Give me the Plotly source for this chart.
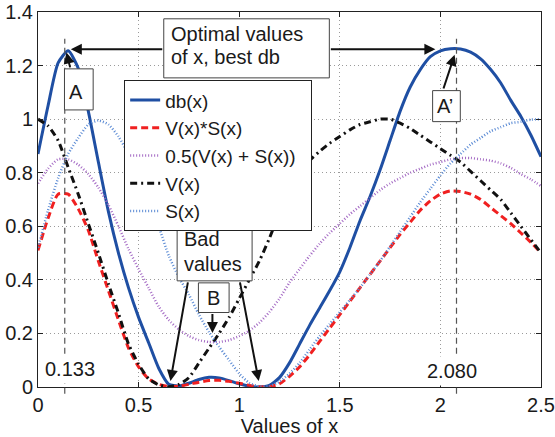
import plotly.graph_objects as go

# ---------------- data ----------------
x_vals = [0.00, 0.05, 0.10, 0.15, 0.20, 0.25, 0.30, 0.35, 0.40, 0.45,
          0.50, 0.55, 0.60, 0.65, 0.70, 0.75, 0.80, 0.85, 0.90, 0.95,
          1.00, 1.05, 1.10, 1.15, 1.20, 1.25, 1.30, 1.35, 1.40, 1.45,
          1.50, 1.55, 1.60, 1.65, 1.70, 1.75, 1.80, 1.85, 1.90, 1.95,
          2.00, 2.05, 2.10, 2.15, 2.20, 2.25, 2.30, 2.35, 2.40, 2.45, 2.50]

db_vals = [0.87, 1.05, 1.21, 1.255, 1.19, 1.03, 0.84, 0.655, 0.50, 0.37,
           0.26, 0.165, 0.07, 0.01, 0.004, 0.014, 0.028, 0.036, 0.034, 0.024,
           0.012, 0.003, 0.0, 0.006, 0.035, 0.09, 0.16, 0.23, 0.295, 0.36,
           0.43, 0.52, 0.62, 0.71, 0.81, 0.92, 1.03, 1.12, 1.185, 1.233,
           1.255, 1.263, 1.262, 1.25, 1.225, 1.185, 1.135, 1.07, 1.01, 0.94, 0.86]

vs_prod_vals = [0.51, 0.63, 0.72, 0.72, 0.665, 0.585, 0.47, 0.36, 0.25, 0.145,
                0.075, 0.03, 0.01, 0.002, 0.003, 0.01, 0.018, 0.024, 0.025, 0.021,
                0.014, 0.006, 0.001, 0.001, 0.012, 0.04, 0.075, 0.12, 0.17, 0.22,
                0.27, 0.32, 0.37, 0.42, 0.47, 0.52, 0.57, 0.615, 0.66, 0.695,
                0.72, 0.732, 0.73, 0.72, 0.70, 0.67, 0.64, 0.61, 0.575, 0.54, 0.50]

vs_mean_vals = [0.76, 0.815, 0.85, 0.85, 0.83, 0.795, 0.745, 0.68, 0.60, 0.515,
                0.44, 0.37, 0.30, 0.25, 0.215, 0.19, 0.175, 0.168, 0.168, 0.175,
                0.19, 0.21, 0.24, 0.28, 0.33, 0.39, 0.44, 0.49, 0.535, 0.575,
                0.61, 0.645, 0.675, 0.705, 0.735, 0.76, 0.78, 0.80, 0.815, 0.83,
                0.84, 0.85, 0.855, 0.855, 0.85, 0.845, 0.835, 0.818, 0.795, 0.775, 0.75]

v_vals = [1.00, 0.975, 0.92, 0.82, 0.72, 0.61, 0.50, 0.385, 0.275, 0.16,
          0.085, 0.03, 0.008, 0.001, 0.01, 0.035, 0.09, 0.145, 0.20, 0.26,
          0.33, 0.40, 0.47, 0.555, 0.65, 0.73, 0.795, 0.845, 0.88, 0.91,
          0.935, 0.96, 0.98, 0.99, 1.00, 1.00, 0.985, 0.965, 0.94, 0.915,
          0.89, 0.865, 0.84, 0.805, 0.77, 0.735, 0.70, 0.65, 0.60, 0.55, 0.50]

s_vals = [0.52, 0.66, 0.78, 0.87, 0.93, 0.98, 0.995, 0.98, 0.935, 0.87,
          0.80, 0.71, 0.60, 0.49, 0.41, 0.345, 0.27, 0.205, 0.15, 0.10,
          0.05, 0.015, 0.002, 0.003, 0.02, 0.05, 0.09, 0.14, 0.19, 0.235,
          0.28, 0.325, 0.37, 0.42, 0.47, 0.525, 0.58, 0.635, 0.69, 0.74,
          0.79, 0.835, 0.87, 0.905, 0.93, 0.955, 0.97, 0.985, 0.99, 0.998, 1.00]

series_names = ["db(x)", "V(x)*S(x)", "0.5(V(x) + S(x))\u00a0\u00a0", "V(x)", "S(x)"]
optimal_x = [0.133, 2.080]
optimal_labels = ["0.133", "2.080"]

FONT = "Liberation Sans, Arial, Helvetica, sans-serif"
TXT = "#1a1a1a"

fig = go.Figure()
fig.add_trace(go.Scatter(x=x_vals, y=db_vals, name=series_names[0], mode="lines",
                         line=dict(color="#1f4fa3", width=3, shape="spline", smoothing=0.6)))
fig.add_trace(go.Scatter(x=x_vals, y=vs_prod_vals, name=series_names[1], mode="lines",
                         line=dict(color="#f02020", width=3, dash="7px,4px", shape="spline", smoothing=0.6)))
fig.add_trace(go.Scatter(x=x_vals, y=vs_mean_vals, name=series_names[2], mode="lines",
                         line=dict(color="#a46ac4", width=2.5, dash="1px,2px", shape="spline", smoothing=0.6)))
fig.add_trace(go.Scatter(x=x_vals, y=v_vals, name=series_names[3], mode="lines",
                         line=dict(color="#111111", width=3, dash="7px,4px,2px,4px", shape="spline", smoothing=0.6)))
fig.add_trace(go.Scatter(x=x_vals, y=s_vals, name=series_names[4], mode="lines",
                         line=dict(color="#5a8ad4", width=2.5, dash="1px,2px", shape="spline", smoothing=0.6)))

shapes = []
# vertical dashed markers of the optimal x values
for xv in optimal_x:
    shapes.append(dict(type="line", xref="x", yref="paper", x0=xv, x1=xv, y0=-0.018, y1=1.3 / 1.4,
                       line=dict(color="#555555", width=1.2, dash="6px,4px"), layer="above"))

# text boxes (data coordinates)
boxes = [
    (0.625, 1.448, 1.154, 1.3746),   # Optimal values
    (0.1316, 0.2742, 1.0344, 1.1877),  # A
    (1.9613, 2.0989, 0.9907, 1.1065),  # A'
    (0.6915, 1.0641, 0.3963, 0.6007),  # Bad values
    (0.7973, 0.9498, 0.2781, 0.3888),  # B
]
for x0, x1, y0, y1 in boxes:
    shapes.append(dict(type="rect", xref="x", yref="y", x0=x0, x1=x1, y0=y0, y1=y1,
                       fillcolor="white", line=dict(color="#444444", width=1), layer="above"))

annotations = []
tf = dict(family=FONT, size=20, color=TXT)
texts = [
    ("Optimal values", 0.6533, 1.3166, "left"),
    ("of x, best db", 0.6533, 1.2325, "left"),
    ("Bad", 0.7178, 0.5521, "left"),
    ("values", 0.7178, 0.4587, "left"),
    ("A", 0.1903, 1.0998, "center"),
    ("A\u2019", 2.0204, 1.0493, "center"),
    ("B", 0.8709, 0.3335, "center"),
]
for t, ax_, ay_, anc in texts:
    annotations.append(dict(text=t, x=ax_, y=ay_, xref="x", yref="y", showarrow=False,
                            xanchor=anc, yanchor="middle", font=tf))
# labels of the optimal values (white background hides grid/dashed line)
label_pos = [(0.1615, 0.0673), (2.0566, 0.0587)]
for lab, (lx, ly) in zip(optimal_labels, label_pos):
    annotations.append(dict(text=lab, x=lx, y=ly, xref="x", yref="y", showarrow=False,
                            xanchor="center", yanchor="middle", font=tf, bgcolor="white", borderpad=3))

# arrows: (tail_x, tail_y, tip_x, tip_y)
arrows = [
    (0.625, 1.2613, 0.163, 1.2613),
    (1.448, 1.2613, 1.975, 1.2613),
    (0.1615, 1.1877, 0.1416, 1.2486),
    (2.0129, 1.109, 2.0706, 1.24),
    (0.7462, 0.3963, 0.6583, 0.0224),
    (1.0025, 0.3963, 1.0969, 0.0224),
    (0.8669, 0.2781, 0.8669, 0.2019),
]
for tx, ty, hx, hy in arrows:
    annotations.append(dict(text="", x=hx, y=hy, ax=tx, ay=ty, xref="x", yref="y",
                            axref="x", ayref="y", showarrow=True, arrowhead=2,
                            arrowsize=1.1, arrowwidth=2, arrowcolor="#111111", standoff=0))

axis_common = dict(showline=True, linecolor="#222222", linewidth=1, mirror="ticks",
                   ticks="inside", ticklen=5, tickcolor="#222222",
                   showgrid=True, gridcolor="#9a9a9a", gridwidth=1, griddash="1px,3px",
                   zeroline=False, tickfont=dict(family=FONT, size=20, color=TXT))

fig.update_layout(
    width=555, height=437,
    margin=dict(l=38, r=14, t=12, b=50, autoexpand=False),
    paper_bgcolor="white", plot_bgcolor="white",
    font=dict(family=FONT, size=20, color=TXT),
    xaxis=dict(range=[0, 2.5], dtick=0.5, tick0=0,
               title=dict(text="Values of x", font=dict(family=FONT, size=20, color=TXT), standoff=4),
               **axis_common),
    yaxis=dict(range=[0, 1.4], dtick=0.2, tick0=0, **axis_common),
    legend=dict(x=0.1713, y=0.818, xanchor="left", yanchor="top",
                bgcolor="white", bordercolor="#222222", borderwidth=1,
                font=dict(family=FONT, size=19, color=TXT), tracegroupgap=0),
    shapes=shapes,
    annotations=annotations,
    showlegend=True,
)

fig.write_html("out.html", config={"displayModeBar": False},
               post_script="document.body.style.margin='0';document.body.style.overflow='hidden';")
